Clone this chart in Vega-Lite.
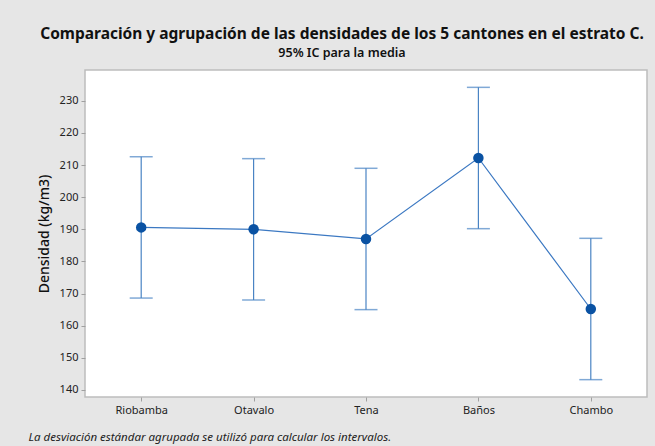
{
  "$schema": "https://vega.github.io/schema/vega-lite/v6.json",
  "autosize": {"type": "none"},
  "width": 562,
  "height": 327,
  "padding": {"left": 85, "top": 70, "right": 8, "bottom": 49},
  "background": "#e6e6e6",
  "title": {
    "text": "Comparación y agrupación de las densidades de los 5 cantones en el estrato C.",
    "subtitle": "95% IC para la media",
    "anchor": "middle",
    "dx": -24,
    "offset": 11,
    "font": "Noto Sans",
    "fontSize": 15.5,
    "fontWeight": "bold",
    "color": "#111111",
    "subtitleFont": "Noto Sans",
    "subtitleFontSize": 12.5,
    "subtitleFontWeight": 600,
    "subtitleColor": "#111111",
    "subtitlePadding": 4
  },
  "config": {
    "view": {"fill": "white", "stroke": "#bdbdbd", "strokeWidth": 1.5},
    "axis": {
      "labelFont": "Noto Sans",
      "labelFontSize": 11,
      "labelColor": "#222222",
      "labelOverlap": false,
      "tickColor": "#a0a0a0",
      "tickSize": 4,
      "domain": false,
      "grid": false
    }
  },
  "data": {
    "values": [
      {"canton": "Riobamba", "media": 190.6, "inferior": 168.6, "superior": 212.6},
      {"canton": "Otavalo", "media": 190.0, "inferior": 168.0, "superior": 212.0},
      {"canton": "Tena", "media": 187.0, "inferior": 165.0, "superior": 209.0},
      {"canton": "Baños", "media": 212.2, "inferior": 190.2, "superior": 234.2},
      {"canton": "Chambo", "media": 165.2, "inferior": 143.2, "superior": 187.2}
    ]
  },
  "encoding": {
    "x": {
      "field": "canton",
      "type": "nominal",
      "sort": null,
      "scale": {"type": "point", "padding": 0.5},
      "axis": {
        "labelAngle": 0,
        "labelPadding": 3,
        "title": "La desviación estándar agrupada se utilizó para calcular los intervalos.",
        "titleFont": "Noto Sans",
        "titleFontSize": 11.5,
        "titleFontStyle": "italic",
        "titleFontWeight": "normal",
        "titleColor": "#222222",
        "titleAnchor": "start",
        "titleAlign": "left",
        "titleX": -57,
        "titleY": 40,
        "titleBaseline": "middle"
      }
    }
  },
  "layer": [
    {
      "mark": {"type": "rule", "color": "#4a84c4", "strokeWidth": 1.2},
      "encoding": {
        "y": {
          "field": "inferior",
          "type": "quantitative",
          "scale": {"domain": [137.8, 239.6], "nice": false, "zero": false},
          "axis": {
            "values": [140, 150, 160, 170, 180, 190, 200, 210, 220, 230],
            "labelOverlap": false,
            "tickCount": 10,
            "title": "Densidad (kg/m3)",
            "titleFont": "Noto Sans",
            "titleFontSize": 14,
            "titleFontWeight": 500,
            "titleColor": "#111111",
            "titlePadding": 8,
            "labelPadding": 3
          }
        },
        "y2": {"field": "superior"}
      }
    },
    {
      "mark": {"type": "tick", "color": "#4a84c4", "size": 23, "thickness": 1.5, "orient": "horizontal"},
      "encoding": {"y": {"field": "inferior", "type": "quantitative"}}
    },
    {
      "mark": {"type": "tick", "color": "#4a84c4", "size": 23, "thickness": 1.5, "orient": "horizontal"},
      "encoding": {"y": {"field": "superior", "type": "quantitative"}}
    },
    {
      "mark": {"type": "line", "color": "#3b78c2", "strokeWidth": 1.2},
      "encoding": {"y": {"field": "media", "type": "quantitative"}}
    },
    {
      "mark": {"type": "point", "filled": true, "color": "#0a52a3", "opacity": 1, "size": 110},
      "encoding": {"y": {"field": "media", "type": "quantitative"}}
    }
  ]
}
